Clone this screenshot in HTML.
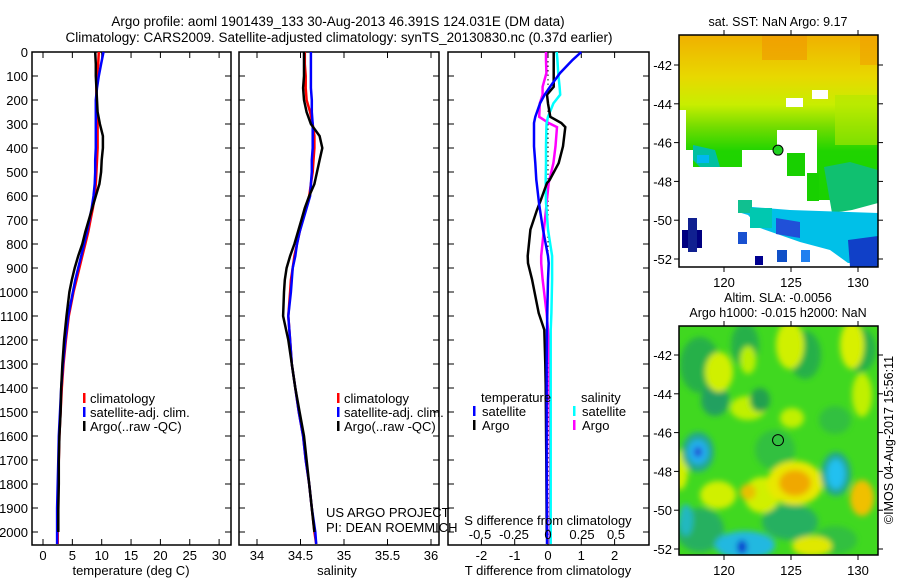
<!DOCTYPE html>
<html><head><meta charset="utf-8"><style>
body{margin:0;background:#fff;}
svg{display:block;font-family:"Liberation Sans",sans-serif;}
</style></head><body>
<svg id="c" width="900" height="580" viewBox="0 0 900 580" xmlns="http://www.w3.org/2000/svg">
<defs>
<filter id="bl" x="-50%" y="-50%" width="200%" height="200%"><feGaussianBlur stdDeviation="3"/></filter>
<linearGradient id="sstg" x1="0" y1="0" x2="0" y2="1">
<stop offset="0" stop-color="#f0b000"/><stop offset="0.18" stop-color="#e8d800"/><stop offset="0.3" stop-color="#c8ee00"/><stop offset="0.4" stop-color="#70dc00"/><stop offset="0.5" stop-color="#20d400"/><stop offset="1" stop-color="#10d000"/>
</linearGradient>
<clipPath id="m1"><rect x="679" y="35" width="199" height="232"/></clipPath>
<clipPath id="m2"><rect x="679" y="326" width="199" height="229"/></clipPath>
</defs>
<g font-size="13.5" text-anchor="middle">
<text x="338" y="26">Argo profile: aoml 1901439_133 30-Aug-2013 46.391S 124.031E (DM data)</text>
<text x="339" y="42">Climatology: CARS2009. Satellite-adjusted climatology: synTS_20130830.nc (0.37d earlier)</text>
</g>
<g id="plots"></g>
<g id="maps"></g>
</svg>
<script>
// ---- data ----
const depths=[0,50,100,150,200,250,300,350,400,450,500,550,600,650,700,750,800,850,900,950,1000,1100,1200,1300,1400,1500,1600,1700,1800,1900,2000,2050];
const tempClim=[9.5,9.4,9.2,9.1,9.1,9.2,9.3,9.3,9.3,9.2,9.1,9.0,8.8,8.5,8.1,7.7,7.2,6.7,6.2,5.7,5.2,4.4,3.9,3.5,3.2,3.0,2.8,2.7,2.6,2.6,2.5,2.5];
const tempSat=[10.3,9.9,9.5,9.2,9.0,9.0,9.0,9.0,9.0,8.9,8.9,8.8,8.6,8.3,7.9,7.5,7.0,6.5,6.0,5.5,5.1,4.3,3.8,3.4,3.1,2.9,2.7,2.6,2.5,2.4,2.4,2.4];
const tempArgo=[8.9,9.0,9.0,9.1,9.2,9.3,9.7,10.2,10.2,10.0,9.9,9.6,9.0,8.4,7.8,7.2,6.7,6.0,5.4,4.9,4.5,4.0,3.6,3.3,3.1,3.0,2.8,2.7,2.7,2.6,2.6,null];
const salClim=[34.55,34.55,34.56,34.56,34.57,34.61,34.64,34.66,34.66,34.65,34.64,34.62,34.60,34.56,34.52,34.49,34.46,34.43,34.41,34.39,34.38,34.36,34.38,34.40,34.44,34.48,34.53,34.56,34.60,34.63,34.66,34.68];
const salSat=[34.62,34.62,34.62,34.62,34.63,34.63,34.64,34.64,34.64,34.63,34.63,34.62,34.61,34.57,34.53,34.49,34.46,34.44,34.41,34.40,34.39,34.36,34.38,34.40,34.44,34.48,34.53,34.56,34.60,34.63,34.67,34.68];
const salArgo=[34.54,34.54,34.54,34.53,34.54,34.57,34.62,34.72,34.75,34.72,34.69,34.66,34.60,34.55,34.51,34.47,34.43,34.38,34.34,34.32,34.31,34.30,34.36,34.40,34.44,34.49,34.54,34.57,34.60,34.63,34.66,null];
const dDepths=[0,33,88,145,178,214,270,296,313,393,463,533,546,629,658,740,850,880,947,1088,1158,1300,1388,1700,2000,2050];
const dTSat=[1.0,0.74,0.36,0.06,-0.1,-0.24,-0.38,-0.42,-0.42,-0.42,-0.38,-0.35,-0.34,-0.27,-0.24,-0.15,0.0,0.02,0.0,-0.02,-0.03,-0.04,-0.04,-0.04,-0.03,-0.03];
const dTArgo=[0.17,0.17,0.17,0.17,-0.03,0.0,0.07,0.4,0.52,0.45,0.32,0.05,-0.03,-0.25,-0.33,-0.53,-0.61,-0.6,-0.48,-0.28,-0.11,-0.08,-0.07,-0.05,-0.04,null];
const dSSat=[0.064,0.069,0.075,0.085,0.09,0.04,0.0,-0.01,-0.012,-0.015,-0.015,-0.017,-0.017,-0.015,-0.01,0.0,0.03,0.03,0.03,0.025,0.02,0.02,0.02,0.02,0.02,0.02];
const dSArgo=[-0.015,-0.015,-0.012,-0.04,-0.04,-0.06,-0.065,0.005,0.066,0.055,0.04,0.01,0.005,-0.01,-0.015,-0.03,-0.05,-0.05,-0.04,-0.01,0.0,0.01,0.01,0.015,0.015,0.015];
const depthTicks=[0,100,200,300,400,500,600,700,800,900,1000,1100,1200,1300,1400,1500,1600,1700,1800,1900,2000];
const tTicks=[0,5,10,15,20,25,30];
const sTicks=[34,34.5,35,35.5,36];
const dtTicks=[-2,-1,0,1,2];
const dsTicks=[-0.5,-0.25,0,0.25,0.5];
const lonTicks=[120,125,130];
const latTicks=[-42,-44,-46,-48,-50,-52];

const NS='http://www.w3.org/2000/svg';
function mk(tag,attrs,parent,txt){const e=document.createElementNS(NS,tag);for(const k in attrs)e.setAttribute(k,attrs[k]);if(txt!==undefined)e.textContent=txt;parent.appendChild(e);return e;}
const P=document.getElementById('plots');
const yD=d=>52+d*0.24;
const TOP=52,BOT=545;
const xT=v=>43+5.87*v;
const xS=v=>257+87*(v-34);
const xDT=v=>548+33.3*v;
const xDS=v=>548+136*v;

function panel(name,L,R){
  const g=mk('g',{},P);
  
  
  mk('rect',{x:L,y:TOP,width:R-L,height:BOT-TOP,fill:'none',stroke:'#000','stroke-width':1.5},g);
  depthTicks.forEach(d=>{
    mk('line',{x1:L,x2:L+6,y1:yD(d),y2:yD(d),stroke:'#000'},g);
    mk('line',{x1:R-6,x2:R,y1:yD(d),y2:yD(d),stroke:'#000'},g);
  });
  return g;
}
function xticks(g,ticks,fx,labels){
  ticks.forEach(t=>{
    const x=fx(t);
    mk('line',{x1:x,x2:x,y1:TOP,y2:TOP+6,stroke:'#000'},g);
    mk('line',{x1:x,x2:x,y1:BOT-6,y2:BOT,stroke:'#000'},g);
    if(labels){const tx=mk('text',{x:x,y:560,'font-size':13,'text-anchor':'middle'},g,String(t));
      
      }
  });
}
function line(g,name,xs,vals,fx,color){
  let pts=[];
  vals.forEach((v,i)=>{if(v!==null)pts.push(fx(v).toFixed(1)+','+yD(xs[i]).toFixed(1));});
  const l=mk('polyline',{points:pts.join(' '),fill:'none',stroke:color,'stroke-width':2.5},g);
  
  
}
const yl=mk('g',{'font-size':13,'text-anchor':'end'},P);


depthTicks.forEach(d=>mk('text',{x:28,y:yD(d)+5},yl,String(d)));

const g1=panel('temperature-panel',32,231);
xticks(g1,tTicks,xT,true);
line(g1,'temp-climatology-line',depths,tempClim,xT,'#f00');
line(g1,'temp-satellite-line',depths,tempSat,xT,'#00f');
line(g1,'temp-argo-line',depths,tempArgo,xT,'#000');
const t1=mk('text',{x:131,y:575,'font-size':13,'text-anchor':'middle'},g1,'temperature (deg C)');

function legend(g,x,y,items,name){
  const lg=mk('g',{'font-size':13},g);
  
  
  items.forEach((it,i)=>{
    mk('rect',{x:x,y:y+i*14-5,width:2.5,height:10,fill:it[1]},lg);
    mk('text',{x:x+7,y:y+i*14+5},lg,it[0]);
  });
}
legend(g1,83,398,[['climatology','#f00'],['satellite-adj. clim.','#00f'],['Argo(..raw -QC)','#000']],'temperature-legend');

const g2=panel('salinity-panel',239,439);
xticks(g2,sTicks,xS,true);
line(g2,'sal-climatology-line',depths,salClim,xS,'#f00');
line(g2,'sal-satellite-line',depths,salSat,xS,'#00f');
line(g2,'sal-argo-line',depths,salArgo,xS,'#000');
const t2=mk('text',{x:337,y:575,'font-size':13,'text-anchor':'middle'},g2,'salinity');

legend(g2,337,398,[['climatology','#f00'],['satellite-adj. clim.','#00f'],['Argo(..raw -QC)','#000']],'salinity-legend');
const cr=mk('g',{'font-size':13},g2);

mk('text',{x:326,y:517},cr,'US ARGO PROJECT');
mk('text',{x:326,y:532},cr,'PI: DEAN ROEMMICH');

const g3=panel('difference-panel',448,649);
xticks(g3,dtTicks,xDT,true);
mk('line',{x1:548,x2:548,y1:TOP,y2:BOT,stroke:'#000','stroke-dasharray':'1.5,3'},g3);
line(g3,'sal-diff-argo-line',dDepths,dSArgo,xDS,'#f0f');
line(g3,'sal-diff-satellite-line',dDepths,dSSat,xDS,'#0ff');
line(g3,'temp-diff-argo-line',dDepths,dTArgo,xDT,'#000');
line(g3,'temp-diff-satellite-line',dDepths,dTSat,xDT,'#00f');
const sl=mk('g',{'font-size':13,'text-anchor':'middle'},g3);

dsTicks.forEach(t=>mk('text',{x:xDS(t),y:539},sl,String(t)));
mk('text',{x:548,y:525},sl,'S difference from climatology');
const t3=mk('text',{x:548,y:575,'font-size':13,'text-anchor':'middle'},g3,'T difference from climatology');

const lg3=mk('g',{'font-size':13},g3);

mk('text',{x:481,y:402},lg3,'temperature');
mk('text',{x:581,y:402},lg3,'salinity');
[['satellite','#00f',473],['Argo','#000',473],['satellite','#0ff',573],['Argo','#f0f',573]].forEach((it,i)=>{
  const r=i%2, x=it[2];
  mk('rect',{x:x,y:406+r*14,width:2.5,height:10,fill:it[1]},lg3);
  mk('text',{x:x+9,y:416+r*14},lg3,it[0]);
});

// ---- maps ----
const M=document.getElementById('maps');
const mx=lon=>724+13.4*(lon-120);
const my1=lat=>65+19.4*(-42-lat);
const my2=lat=>355+19.4*(-42-lat);
function mapFrame(g,y0,h,my){
  mk('rect',{x:679,y:y0,width:199,height:h,fill:'none',stroke:'#000','stroke-width':1.5},g);
  lonTicks.forEach(l=>{
    mk('line',{x1:mx(l),x2:mx(l),y1:y0,y2:y0-5,stroke:'#000'},g);
    mk('line',{x1:mx(l),x2:mx(l),y1:y0+h,y2:y0+h+5,stroke:'#000'},g);
    mk('text',{x:mx(l),y:y0+h+20,'font-size':13,'text-anchor':'middle'},g,String(l));
  });
  latTicks.forEach(l=>{
    mk('line',{x1:679,x2:674,y1:my(l),y2:my(l),stroke:'#000'},g);
    mk('line',{x1:878,x2:883,y1:my(l),y2:my(l),stroke:'#000'},g);
    mk('text',{x:672,y:my(l)+5,'font-size':13,'text-anchor':'end'},g,String(l));
  });
}
const ms=mk('g',{},M);

mk('text',{x:778,y:26,'font-size':12.5,'text-anchor':'middle'},ms,'sat. SST: NaN Argo: 9.17');
const c1=mk('g',{'clip-path':'url(#m1)'},ms);
mk('rect',{x:679,y:35,width:199,height:232,fill:'url(#sstg)'},c1);
mk('rect',{x:762,y:35,width:45,height:25,fill:'#f09800',opacity:0.6},c1);
mk('rect',{x:860,y:35,width:18,height:30,fill:'#f0a000',opacity:0.6},c1);
mk('rect',{x:835,y:95,width:43,height:50,fill:'#b0e800',opacity:0.6},c1);
// white (no data) regions
mk('polygon',{points:'679,110 686,110 686,150 693,150 693,167 742,167 742,150 777,150 777,130 817,130 817,200 878,200 878,267 679,267',fill:'#fff'},c1);
mk('rect',{x:787,y:153,width:18,height:23,fill:'#18d000'},c1);
mk('rect',{x:807,y:173,width:12,height:28,fill:'#18d000'},c1);
mk('rect',{x:786,y:98,width:17,height:9,fill:'#fff'},c1);
mk('rect',{x:812,y:90,width:16,height:9,fill:'#fff'},c1);
mk('polygon',{points:'824,167 850,162 878,170 878,203 852,210 832,213',fill:'#10c070'},c1);
mk('polygon',{points:'693,145 715,150 720,167 700,167 693,160',fill:'#00c0a0'},c1);
mk('rect',{x:697,y:155,width:12,height:8,fill:'#00b8f0'},c1);
mk('polygon',{points:'738,200 752,200 752,207 790,210 878,213 878,263 848,263 830,250 800,242 780,235 760,228 748,215 738,212',fill:'#00c0e8'},c1);
mk('rect',{x:738,y:200,width:14,height:13,fill:'#10c090'},c1);
mk('rect',{x:750,y:208,width:22,height:20,fill:'#00c8b0'},c1);
mk('polygon',{points:'776,218 800,222 800,238 776,234',fill:'#2050d8'},c1);
mk('polygon',{points:'848,240 878,236 878,267 850,267',fill:'#1040c8'},c1);
mk('rect',{x:682,y:230,width:20,height:18,fill:'#000080'},c1);
mk('rect',{x:688,y:218,width:9,height:34,fill:'#102090'},c1);
mk('rect',{x:755,y:256,width:8,height:9,fill:'#000090'},c1);
mk('rect',{x:777,y:250,width:10,height:12,fill:'#1050c8'},c1);
mk('rect',{x:801,y:250,width:9,height:12,fill:'#2080f0'},c1);
mk('rect',{x:738,y:232,width:9,height:12,fill:'#1850d0'},c1);
mk('circle',{cx:mx(124.031),cy:my1(-46.391),r:5,fill:'#20d020',stroke:'#000'},ms);
mapFrame(ms,35,232,my1);
const ma=mk('g',{},M);

mk('text',{x:778,y:302,'font-size':12.5,'text-anchor':'middle'},ma,'Altim. SLA: -0.0056');
mk('text',{x:778,y:317,'font-size':12.5,'text-anchor':'middle'},ma,'Argo h1000: -0.015 h2000: NaN');
const c2=mk('g',{'clip-path':'url(#m2)'},ma);
mk('rect',{x:679,y:326,width:199,height:229,fill:'#40d820'},c2);
const bl=mk('g',{filter:'url(#bl)'},c2);
[
 [700,365,20,28,'#28b048'],[745,345,14,22,'#28b048'],[805,355,16,24,'#28b048'],[860,350,16,22,'#28b048'],
 [715,400,14,16,'#20a060'],[700,530,24,22,'#28b060'],[790,522,28,18,'#28b060'],[835,540,22,14,'#30c040'],
 [775,450,20,20,'#30c040'],[835,420,16,14,'#30c040'],
 [719,372,14,20,'#d0f000'],[790,345,14,24,'#d0f000'],[852,345,12,24,'#d8f000'],[748,408,18,12,'#c0f000'],
 [718,495,18,14,'#d0f000'],[762,495,18,18,'#d0f000'],[812,546,20,10,'#e0e800'],[792,418,12,10,'#c0f000'],
 [680,470,8,20,'#d0f000'],[862,395,10,22,'#c0f000'],[748,360,8,14,'#b8f000'],
 [795,483,28,22,'#e8e800'],[795,483,16,13,'#f0a800'],[862,498,12,18,'#f0c000'],[748,492,8,8,'#e8c000'],
 [836,474,15,22,'#20a890'],[836,474,9,15,'#20c0f0'],[698,452,16,20,'#20a890'],[698,452,10,12,'#20b0f0'],[698,452,4,5,'#2040d0'],
 [745,545,30,14,'#20b8e0'],[742,547,5,7,'#1040d0'],[686,520,7,16,'#20b8c0'],[760,400,10,12,'#20a050']
].forEach(b=>mk('ellipse',{cx:b[0],cy:b[1],rx:b[2],ry:b[3],fill:b[4]},bl));
mk('circle',{cx:mx(124.031),cy:my2(-46.391),r:5.5,fill:'none',stroke:'#000'},ma);
mapFrame(ma,326,229,my2);
const cp=mk('text',{x:893,y:440,'font-size':12.5,'text-anchor':'middle',transform:'rotate(-90 893 440)'},M,'©IMOS 04-Aug-2017 15:56:11');

</script>
</body></html>
